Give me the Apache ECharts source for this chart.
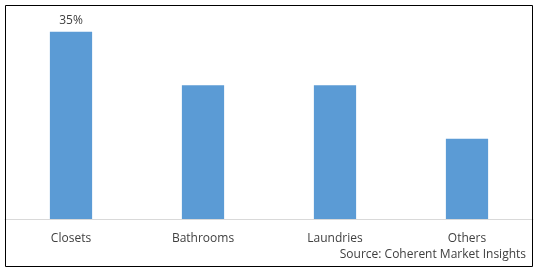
<!DOCTYPE html>
<html>
<head>
<meta charset="utf-8">
<script src="https://cdn.jsdelivr.net/npm/echarts@6/dist/echarts.min.js"></script>
<style>
  html, body { margin: 0; padding: 0; background: #fff; }
  #chart { width: 538px; height: 272px; }
</style>
</head>
<body>
<div id="chart"></div>
<script>
// values (share, %)
var categories = ['Closets', 'Bathrooms', 'Laundries', 'Others'];
var shares = [35, 25, 25, 15];
var labelled = ['35%', '', '', ''];

var chart = echarts.init(document.getElementById('chart'));
chart.setOption({
  animation: false,
  grid: { left: 5, right: 5, top: 5, bottom: 53 },
  graphic: [
    {
      type: 'rect',
      shape: { x: 5.5, y: 5.5, width: 527, height: 261 },
      style: { fill: 'none', stroke: '#000', lineWidth: 1 },
      z: 10
    },
    {
      type: 'text',
      right: 12,
      top: 249,
      style: {
        text: 'Source: Coherent Market Insights',
        font: '12px "Open Sans", sans-serif',
        fill: '#404040'
      }
    }
  ],
  xAxis: {
    type: 'category',
    data: categories,
    axisLine: { lineStyle: { color: '#d9d9d9' } },
    axisTick: { show: false },
    axisLabel: {
      color: '#404040',
      fontFamily: 'Open Sans',
      fontSize: 12,
      margin: 14
    }
  },
  yAxis: {
    type: 'value',
    min: 0,
    max: 40,
    show: false,
    splitLine: { show: false }
  },
  series: [{
    type: 'bar',
    data: shares,
    barWidth: '32%',
    itemStyle: { color: '#5b9bd5' },
    label: {
      show: true,
      position: 'top',
      distance: 5,
      color: '#404040',
      fontFamily: 'Open Sans',
      fontSize: 12,
      formatter: function (p) { return labelled[p.dataIndex]; }
    }
  }]
});
</script>
</body>
</html>
